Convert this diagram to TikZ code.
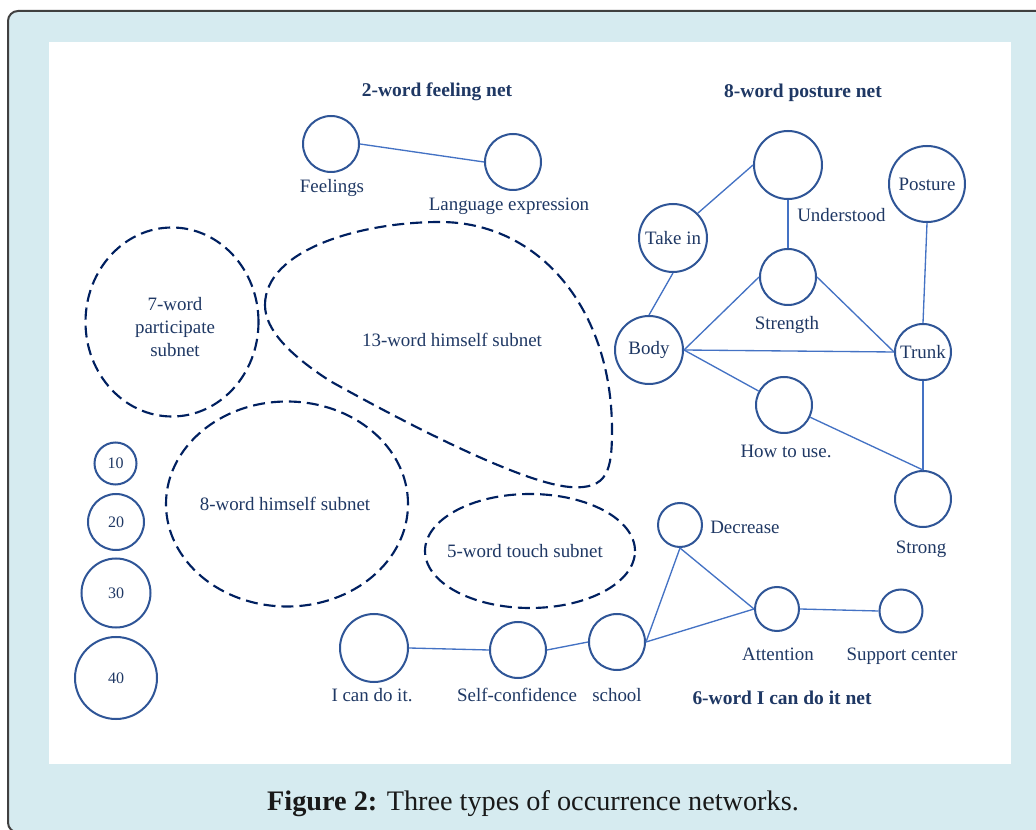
\documentclass[tikz,border=0pt]{standalone}
\usepackage{fontspec}
\setmainfont{Liberation Serif}
\usepackage{tikz}
\usetikzlibrary{shapes.geometric}

\definecolor{nodeblue}{HTML}{2F5597}
\definecolor{edgeblue}{HTML}{4472C4}
\definecolor{labelnavy}{HTML}{1F3864}
\definecolor{dashnavy}{HTML}{002060}
\definecolor{panelblue}{HTML}{D6EBF0}
\definecolor{framegrey}{HTML}{404040}

\newcommand{\lblfont}{\fontsize{14.2}{16.9}\selectfont}
\newcommand{\titlefont}{\fontsize{14.6}{17}\selectfont\bfseries}
\newcommand{\legfont}{\fontsize{12}{14}\selectfont}
\newcommand{\figcapfont}{\fontsize{21.2}{25}\selectfont}

\begin{document}
\begin{tikzpicture}[x=0.75pt,y=0.75pt,yscale=-1,xscale=1,
  word/.style={circle, draw=nodeblue, line width=1.5pt, inner sep=0pt, text=labelnavy, font=\lblfont},
  legend/.style={circle, draw=nodeblue, line width=1.5pt, inner sep=0pt, text=labelnavy, font=\legfont},
  lbl/.style={text=labelnavy, font=\lblfont, inner sep=0.75pt, anchor=base},
  nettitle/.style={text=labelnavy, font=\titlefont, inner sep=0.75pt, anchor=base},
  link/.style={draw=edgeblue, line width=1pt},
  subnet/.style={ellipse, draw=dashnavy, line width=1.6pt, dash pattern=on 9pt off 4.5pt, inner sep=0pt},
  subnetline/.style={draw=dashnavy, line width=1.6pt, dash pattern=on 9pt off 4.5pt}]
\useasboundingbox (0,0) rectangle (1036,830);

%Shape: Frame
\draw[draw=framegrey, line width=1.5pt, fill=panelblue, rounded corners=7.5pt] (8,11) rectangle (1060,832.5);
%Shape: Panel
\fill[white] (49,42) rectangle (1011,764);

% Text Node
\node[nettitle] (feeltitle) at (437,97) {2-word feeling net};
% Text Node
\node[nettitle] (posturetitle) at (803,98) {8-word posture net};
% Text Node
\node[nettitle] (icantitle) at (782,704) {6-word I can do it net};

%Shape: Circle
\node[word, minimum size=56*0.75pt] (feelings) at (331,144) {};
%Shape: Circle
\node[word, minimum size=56*0.75pt] (language) at (513,162) {};
%Shape: Circle
\node[word, minimum size=68*0.75pt] (understood) at (788,165) {};
%Shape: Circle
\node[word, minimum size=76*0.75pt] (posture) at (927,184) {Posture};
%Shape: Circle
\node[word, minimum size=68*0.75pt] (takein) at (673,238) {Take in};
%Shape: Circle
\node[word, minimum size=56*0.75pt] (strength) at (788,277) {};
%Shape: Circle
\node[word, minimum size=68*0.75pt] (body) at (649,350) {Body};
%Shape: Circle
\node[word, minimum size=56*0.75pt] (trunk) at (923,352) {Trunk};
%Shape: Circle
\node[word, minimum size=56*0.75pt] (howto) at (784,405) {};
%Shape: Circle
\node[word, minimum size=56*0.75pt] (strong) at (923,499) {};
%Shape: Circle
\node[word, minimum size=68*0.75pt] (icando) at (374,648) {};
%Shape: Circle
\node[word, minimum size=56*0.75pt] (selfconf) at (518,650) {};
%Shape: Circle
\node[word, minimum size=56*0.75pt] (school) at (617,642) {};
%Shape: Circle
\node[word, minimum size=44*0.75pt] (decrease) at (680,525) {};
%Shape: Circle
\node[word, minimum size=44*0.75pt] (attention) at (777,609) {};
%Shape: Circle
\node[word, minimum size=43*0.75pt] (support) at (901,611) {};

%Shape: Circle
\node[legend, minimum size=42*0.75pt] (leg10) at (115.5,463.5) {10};
%Shape: Circle
\node[legend, minimum size=56*0.75pt] (leg20) at (116,522) {20};
%Shape: Circle
\node[legend, minimum size=69*0.75pt] (leg30) at (116,593) {30};
%Shape: Circle
\node[legend, minimum size=82*0.75pt] (leg40) at (116,678) {40};

%Shape: Ellipse
\node[subnet, minimum width=173*0.75pt, minimum height=189*0.75pt] (participate) at (172,322) {};
%Shape: Ellipse
\node[subnet, minimum width=242*0.75pt, minimum height=205*0.75pt] (himselfeight) at (287,504) {};
%Shape: Ellipse
\node[subnet, minimum width=210*0.75pt, minimum height=114*0.75pt] (touch) at (530,551) {};
%Shape: Free Drawing
\draw[subnetline] (265,305) .. controls (265,250) and (360,222) .. (440,222) .. controls (540,222) and (612,310) .. (612,430) .. controls (612,470) and (608,490) .. (570,487) .. controls (520,483) and (400,420) .. (330,381) .. controls (290,355) and (265,330) .. (265,305) -- cycle ;

%Straight Lines
\draw[link] (feelings.east) -- (language.west) ;
%Straight Lines
\draw[link] (takein.north east) -- (understood.west) ;
%Straight Lines
\draw[link] (understood.south) -- (strength.north) ;
%Straight Lines
\draw[link] (takein.south) -- (body.north) ;
%Straight Lines
\draw[link] (body.east) -- (strength.west) ;
%Straight Lines
\draw[link] (body.east) -- (trunk.west) ;
%Straight Lines
\draw[link] (strength.east) -- (trunk.west) ;
%Straight Lines
\draw[link] (body.east) -- (howto) ;
%Straight Lines
\draw[link] (howto) -- (strong.north) ;
%Straight Lines
\draw[link] (posture.south) -- (trunk.north) ;
%Straight Lines
\draw[link] (trunk.south) -- (strong.north) ;
%Straight Lines
\draw[link] (icando.east) -- (selfconf.west) ;
%Straight Lines
\draw[link] (selfconf.east) -- (school.west) ;
%Straight Lines
\draw[link] (school.east) -- (decrease.south) ;
%Straight Lines
\draw[link] (school.east) -- (attention.west) ;
%Straight Lines
\draw[link] (decrease.south) -- (attention.west) ;
%Straight Lines
\draw[link] (attention.east) -- (support.west) ;

% Text Node
\node[lbl] (feelingslbl) at (332,193) {Feelings};
% Text Node
\node[lbl] (languagelbl) at (509,211) {Language expression};
% Text Node
\node[lbl, anchor=base west] (understoodlbl) at (796,222) {Understood};
% Text Node
\node[lbl] (strengthlbl) at (787,330) {Strength};
% Text Node
\node[lbl] (howtolbl) at (786,458) {How to use.};
% Text Node
\node[lbl] (stronglbl) at (921,554) {Strong};
% Text Node
\node[lbl, anchor=base west] (decreaselbl) at (709,534) {Decrease};
% Text Node
\node[lbl] (attentionlbl) at (778,660) {Attention};
% Text Node
\node[lbl] (supportlbl) at (902,660) {Support center};
% Text Node
\node[lbl] (icandolbl) at (372,701) {I can do it.};
% Text Node
\node[lbl] (selfconflbl) at (517,701) {Self-confidence};
% Text Node
\node[lbl] (schoollbl) at (617,701) {school};
% Text Node
\node[lbl, anchor=center, align=center] (participatelbl) at (175,327) {7-word\\participate\\subnet};
% Text Node
\node[lbl] (himselfthirteenlbl) at (452,347) {13-word himself subnet};
% Text Node
\node[lbl] (himselfeightlbl) at (285,511) {8-word himself subnet};
% Text Node
\node[lbl] (touchlbl) at (525,558) {5-word touch subnet};

% Text Node
\node[font=\figcapfont, text=black!90, inner sep=0.75pt, anchor=base] (caption) at (533,810) {\textbf{Figure 2:} Three types of occurrence networks.};

\end{tikzpicture}
\end{document}
